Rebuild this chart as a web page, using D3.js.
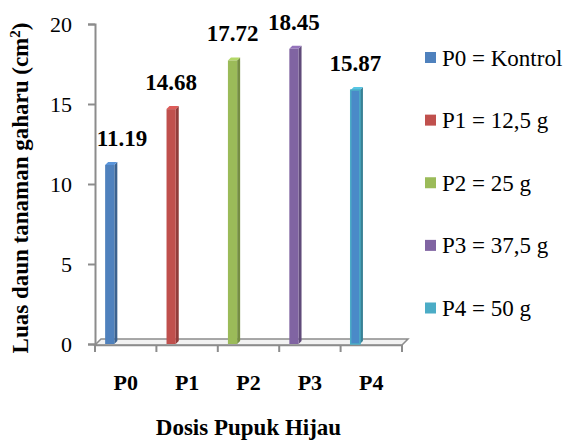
<!DOCTYPE html>
<html>
<head>
<meta charset="utf-8">
<script src="https://cdn.jsdelivr.net/npm/d3@7"></script>
<style>
  body { margin: 0; background: #fff; }
  text { font-family: "Liberation Serif", "Times New Roman", Tinos, "DejaVu Serif", serif; }
</style>
</head>
<body>
<svg id="chart" width="569" height="440"></svg>
<script>
const categories = ["P0", "P1", "P2", "P3", "P4"];
const values = [11.19, 14.68, 17.72, 18.45, 15.87];
const legendLabels = ["P0 = Kontrol", "P1 = 12,5 g", "P2 = 25 g", "P3 = 37,5 g", "P4 = 50 g"];
const colors = ["#4F81BD", "#C0504D", "#9BBB59", "#8064A2", "#4BACC6"];
const yTicks = [0, 5, 10, 15, 20];

const serif = "'Liberation Serif', 'Times New Roman', Tinos, 'DejaVu Serif', serif";
const svg = d3.select("#chart");
const axisColor = "#8c8c8c";
const depth = 3;      // bar 3d offset
const floorDepth = 6; // floor 3d offset

const x = d3.scaleBand()
  .domain(categories)
  .range([95, 402])
  .padding(0);

const y = d3.scaleLinear()
  .domain([0, 20])
  .range([344, 24]);

const barX = d => x(d) + x.bandwidth() * 0.165;
const barW = x.bandwidth() * 0.15;

// floor
const x0 = x.range()[0], x1 = x.range()[1];
svg.append("path")
  .attr("d", `M${x0},${y(0) + 1} L${x1},${y(0) + 1} L${x1 + floorDepth},${y(0) + 1 - floorDepth} L${x0 + floorDepth},${y(0) + 1 - floorDepth} Z`)
  .attr("fill", "#f2f2f2")
  .attr("stroke", axisColor)
  .attr("stroke-width", 1.5);

// y axis
const yAxis = svg.append("g")
  .attr("transform", `translate(${x0},0)`)
  .call(d3.axisLeft(y).tickValues(yTicks).tickSize(7).tickPadding(16));
yAxis.attr("font-family", serif).attr("font-size", 22);
yAxis.select(".domain").attr("stroke", axisColor).attr("stroke-width", 2);
yAxis.selectAll(".tick line").attr("stroke", axisColor).attr("stroke-width", 2);
yAxis.selectAll(".tick text").attr("fill", "#000");

// x axis
const xAxis = svg.append("g")
  .attr("transform", `translate(0,${y(0) + 1})`)
  .call(d3.axisBottom(x).tickSize(0).tickPadding(29));
xAxis.attr("font-family", serif).attr("font-size", 22).attr("font-weight", "bold");
xAxis.select(".domain").attr("stroke", axisColor).attr("stroke-width", 1.5);
xAxis.selectAll(".tick text").attr("fill", "#000");
xAxis.selectAll(".sep")
  .data(categories.concat(["end"]))
  .enter()
  .append("line")
  .attr("x1", (d, i) => i < categories.length ? x(d) : x1)
  .attr("x2", (d, i) => i < categories.length ? x(d) : x1)
  .attr("y1", 0)
  .attr("y2", 7)
  .attr("stroke", axisColor)
  .attr("stroke-width", 2);

// bars
const bars = svg.selectAll("g.bar")
  .data(categories)
  .enter()
  .append("g")
  .attr("class", "bar");

bars.append("path")
  .attr("d", (d, i) => {
    const bx = barX(d) + barW, top = y(values[i]), bot = y(0);
    return `M${bx},${top} L${bx + depth},${top - depth} L${bx + depth},${bot - depth} L${bx},${bot} Z`;
  })
  .attr("fill", (d, i) => d3.color(colors[i]).darker(0.8));

bars.append("path")
  .attr("d", (d, i) => {
    const bx = barX(d), top = y(values[i]);
    return `M${bx},${top} L${bx + depth},${top - depth} L${bx + barW + depth},${top - depth} L${bx + barW},${top} Z`;
  })
  .attr("fill", (d, i) => d3.color(colors[i]).brighter(0.4));

bars.append("rect")
  .attr("x", d => barX(d))
  .attr("y", (d, i) => y(values[i]))
  .attr("width", barW)
  .attr("height", (d, i) => y(0) - y(values[i]))
  .attr("fill", (d, i) => i === 4 ? "#4A8AC8" : colors[i])
  .attr("stroke", (d, i) => i === 4 ? colors[4] : "none")
  .attr("stroke-width", 1.5);

// value labels
svg.selectAll("text.val")
  .data(categories)
  .enter()
  .append("text")
  .attr("class", "val")
  .attr("x", (d, i) => Math.max(barX(d) + barW / 2, x0 + 27))
  .attr("y", (d, i) => y(values[i]) - 19)
  .attr("text-anchor", "middle")
  .style("font-size", "23px")
  .style("font-weight", "bold")
  .text((d, i) => values[i].toFixed(2));

// legend
const legend = svg.append("g").attr("transform", "translate(425,0)");
const ly = d3.scalePoint().domain(categories).range([57.5, 308]);
legend.selectAll("rect")
  .data(categories)
  .enter()
  .append("rect")
  .attr("x", 0)
  .attr("y", d => ly(d) - 5.5)
  .attr("width", 11)
  .attr("height", 11)
  .attr("fill", (d, i) => colors[i]);
legend.selectAll("text")
  .data(categories)
  .enter()
  .append("text")
  .attr("x", 17)
  .attr("y", d => ly(d) + 8)
  .style("font-size", "23px")
  .text((d, i) => legendLabels[i]);

// axis titles
svg.append("text")
  .attr("x", (x0 + x1) / 2)
  .attr("y", 435)
  .attr("text-anchor", "middle")
  .style("font-size", "23px")
  .style("font-weight", "bold")
  .text("Dosis Pupuk Hijau");

const yTitle = svg.append("text")
  .attr("transform", "translate(28,188) rotate(-90)")
  .attr("text-anchor", "middle")
  .style("font-size", "23px")
  .style("font-weight", "bold");
yTitle.append("tspan").text("Luas daun tanaman gaharu (cm");
yTitle.append("tspan").attr("dy", -8).style("font-size", "15px").text("2");
yTitle.append("tspan").attr("dy", 8).text(")");
</script>
</body>
</html>
